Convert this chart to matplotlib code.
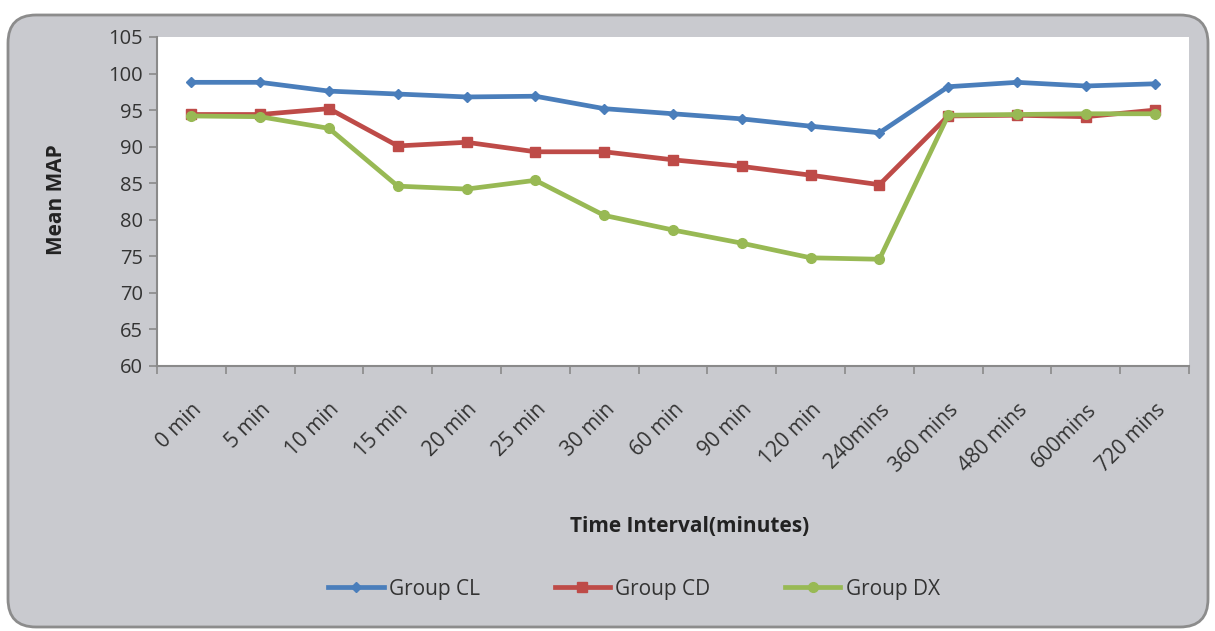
import matplotlib.pyplot as plt
import matplotlib.transforms as mtransforms
from matplotlib.patches import FancyBboxPatch

# data
categories = ['0 min', '5 min', '10 min', '15 min', '20 min', '25 min', '30 min',
              '60 min', '90 min', '120 min', '240mins', '360 mins', '480 mins',
              '600mins', '720 mins']
group_cl = [98.8, 98.8, 97.6, 97.2, 96.8, 96.9, 95.2, 94.5, 93.8, 92.8, 91.9,
            98.2, 98.8, 98.3, 98.6]
group_cd = [94.4, 94.4, 95.2, 90.1, 90.6, 89.3, 89.3, 88.2, 87.3, 86.1, 84.8,
            94.2, 94.3, 94.1, 95.0]
group_dx = [94.2, 94.1, 92.5, 84.6, 84.2, 85.4, 80.6, 78.6, 76.8, 74.8, 74.6,
            94.3, 94.4, 94.5, 94.5]
y_ticks = [60, 65, 70, 75, 80, 85, 90, 95, 100, 105]

plt.rcParams['font.family'] = ['Open Sans', 'DejaVu Sans']
text_col = '#333333'
axis_col = '#8a8a8a'

fig = plt.figure(figsize=(12.15, 6.31), dpi=100)
fig.patch.set_facecolor('white')

# grey rounded chart area, drawn in a pixel-scaled background axes
bg_ax = fig.add_axes([0, 0, 1, 1], zorder=-1)
bg_ax.set_xlim(0, 1215)
bg_ax.set_ylim(0, 631)
bg_ax.axis('off')
bg_ax.add_patch(FancyBboxPatch((8, 4), 1200, 612,
                               boxstyle='round,pad=0,rounding_size=28',
                               facecolor='#c9cacf', edgecolor='#8c8c8c', linewidth=2))

ax = fig.add_axes([157 / 1215, 1 - 366 / 631, (1189 - 157) / 1215, (366 - 37) / 631])
ax.set_facecolor('white')

x = list(range(len(categories)))
ax.plot(x, group_cl, color='#4a7ebb', lw=3.4, marker='D', ms=5.5, label='Group CL')
ax.plot(x, group_cd, color='#be4b48', lw=3.4, marker='s', ms=7, label='Group CD')
ax.plot(x, group_dx, color='#98b954', lw=3.4, marker='o', ms=7, label='Group DX')

ax.set_xlim(-0.5, len(categories) - 0.5)
ax.set_ylim(60, 105)
ax.set_yticks(y_ticks)
ax.set_yticklabels([str(v) for v in y_ticks], fontsize=14.5, color=text_col)

ax.set_xticks(x)
ax.set_xticklabels(categories, rotation=45, ha='right', rotation_mode='anchor',
                   fontsize=15, color=text_col)
shift = mtransforms.ScaledTranslation(8 / 100, 0, fig.dpi_scale_trans)
for lbl in ax.get_xticklabels():
    lbl.set_transform(lbl.get_transform() + shift)
ax.set_xticks([i - 0.5 for i in range(len(categories) + 1)], minor=True)
ax.tick_params(axis='x', which='major', length=0, pad=24)
ax.tick_params(axis='x', which='minor', length=6, color=axis_col, width=1.2)
ax.tick_params(axis='y', length=6, color=axis_col, width=1.2, pad=4)

for side in ['top', 'right']:
    ax.spines[side].set_visible(False)
for side in ['left', 'bottom']:
    ax.spines[side].set_color(axis_col)
    ax.spines[side].set_linewidth(1.5)

ax.set_ylabel('Mean MAP', fontsize=15, fontweight='bold', color='#222222')
ax.yaxis.set_label_coords(-0.087, 0.505)
fig.text(690 / 1215, 1 - 527 / 631, 'Time Interval(minutes)', fontsize=15,
         fontweight='bold', color='#222222', ha='center', va='center')

fig.legend(loc='center', bbox_to_anchor=(634 / 1215, 1 - 589 / 631), ncol=3,
           frameon=False, fontsize=15, handlelength=2.65, columnspacing=3.6,
           handletextpad=0.25, labelcolor=text_col)

plt.savefig('out.png', dpi=100)
